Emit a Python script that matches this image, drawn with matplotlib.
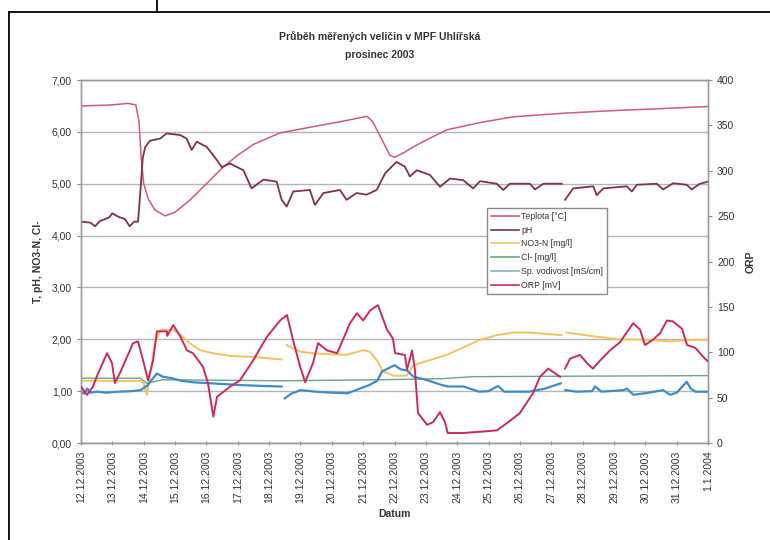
import numpy as np
import matplotlib
matplotlib.use("Agg")
import matplotlib.pyplot as plt
from matplotlib.lines import Line2D

plt.rcParams['font.family'] = ['Liberation Sans', 'DejaVu Sans']

nan = np.nan

# time axis: days since 12.12.2003 00:00
date_labels = ["12.12.2003", "13.12.2003", "14.12.2003", "15.12.2003", "16.12.2003",
               "17.12.2003", "18.12.2003", "19.12.2003", "20.12.2003", "21.12.2003",
               "22.12.2003", "23.12.2003", "24.12.2003", "25.12.2003", "26.12.2003",
               "27.12.2003", "28.12.2003", "29.12.2003", "30.12.2003", "31.12.2003",
               "1.1.2004"]

# Teplota [°C]
t_day = [0, 1.0, 1.5, 1.75, 1.85, 1.92, 2.0, 2.15, 2.35, 2.68, 3.0, 3.5, 4.0, 4.53,
         5.0, 5.5, 6.35, 7.4, 8.3, 9.12, 9.3, 9.6, 9.85, 10.0, 10.3, 10.6, 11.0,
         11.67, 12.73, 13.78, 15.4, 16.97, 18.56, 20.0]
t_val = [6.50, 6.52, 6.55, 6.52, 6.2, 5.5, 5.0, 4.7, 4.5, 4.38, 4.45, 4.7, 5.0, 5.32,
         5.55, 5.76, 5.98, 6.10, 6.20, 6.30, 6.20, 5.85, 5.55, 5.51, 5.60, 5.71, 5.84,
         6.04, 6.18, 6.29, 6.36, 6.41, 6.45, 6.49]

# pH
ph_day = [0, 0.3, 0.45, 0.6, 0.9, 1.0, 1.2, 1.4, 1.55, 1.7, 1.82, 1.9, 1.97, 2.05,
          2.2, 2.52, 2.73, 3.16, 3.37, 3.53, 3.69, 4.01, 4.33, 4.49, 4.75, 5.18, 5.44,
          5.82, 6.24, 6.4, 6.56, 6.77, 7.3, 7.46, 7.73, 8.26, 8.47, 8.79, 9.11, 9.43,
          9.7, 9.96, 10.07, 10.33, 10.49, 10.71, 11.13, 11.45, 11.77, 12.19, 12.51,
          12.73, 13.26, 13.47, 13.68, 14.32, 14.48, 14.75, 15.33, 15.38, 15.44, 15.7,
          16.34, 16.45, 16.66, 17.41, 17.57, 17.73, 18.36, 18.57, 18.89, 19.32, 19.48,
          19.74, 20.0]
ph_val = [4.27, 4.25, 4.18, 4.28, 4.35, 4.43, 4.36, 4.32, 4.18, 4.27, 4.27, 4.9, 5.5,
          5.71, 5.83, 5.87, 5.97, 5.94, 5.87, 5.65, 5.81, 5.71, 5.46, 5.32, 5.39, 5.26,
          4.91, 5.08, 5.04, 4.69, 4.56, 4.85, 4.88, 4.59, 4.82, 4.88, 4.69, 4.82, 4.79,
          4.88, 5.2, 5.36, 5.42, 5.33, 5.14, 5.26, 5.17, 4.94, 5.10, 5.07, 4.91, 5.05,
          5.00, 4.88, 5.00, 5.00, 4.89, 5.00, 5.00, nan, 4.69, 4.91, 4.95, 4.78, 4.91,
          4.95, 4.85, 4.98, 5.00, 4.89, 5.01, 4.98, 4.89, 5.00, 5.04]

# NO3-N [mg/l]
no3_day = [0, 1.9, 2.0, 2.1, 2.2, 2.35, 2.52, 2.94, 3.16, 3.48, 3.8, 4.23, 4.75, 5.5,
           6.4, 6.48, 6.56, 6.99, 7.62, 8.47, 9.0, 9.22, 9.43, 9.64, 9.96, 10.39, 10.6,
           11.66, 12.73, 13.26, 13.79, 14.32, 15.33, 15.4, 15.49, 16.45, 17.19, 18.04,
           18.79, 19.43, 20.0]
no3_val = [1.20, 1.20, 1.15, 0.93, 1.30, 1.90, 2.18, 2.18, 2.09, 1.92, 1.79, 1.73, 1.68,
           1.66, 1.61, nan, 1.89, 1.76, 1.72, 1.70, 1.79, 1.76, 1.60, 1.38, 1.30, 1.30,
           1.50, 1.70, 1.99, 2.08, 2.13, 2.13, 2.08, nan, 2.13, 2.05, 2.00, 1.99, 1.96,
           1.99, 1.99]

# Cl- [mg/l]
cl_day = [0, 1.9, 2.1, 2.3, 2.6, 6.4, 9.5, 11.5, 12.5, 20.0]
cl_val = [1.25, 1.25, 1.15, 1.18, 1.22, 1.20, 1.22, 1.24, 1.28, 1.30]

# Sp. vodivost [mS/cm]
ec_day = [0, 0.1, 0.2, 0.3, 0.5, 0.8, 1.2, 1.6, 1.9, 2.1, 2.3, 2.42, 2.6, 2.9, 3.2,
          3.6, 4.2, 5.0, 5.8, 6.4, 6.45, 6.5, 6.7, 7.0, 7.5, 8.0, 8.5, 8.9, 9.2, 9.45,
          9.6, 9.8, 10.0, 10.2, 10.4, 10.6, 11.0, 11.5, 11.7, 12.2, 12.7, 13.0, 13.3,
          13.5, 14.3, 14.8, 15.3, 15.38, 15.45, 15.8, 16.3, 16.4, 16.6, 17.3, 17.41,
          17.62, 18.0, 18.57, 18.79, 19.0, 19.32, 19.45, 19.6, 20.0]
ec_val = [1.00, 0.95, 1.05, 0.97, 0.99, 0.97, 0.99, 1.00, 1.02, 1.10, 1.25, 1.34, 1.28,
          1.25, 1.20, 1.17, 1.15, 1.12, 1.10, 1.09, nan, 0.86, 0.95, 1.02, 0.99, 0.97,
          0.96, 1.05, 1.12, 1.20, 1.38, 1.44, 1.50, 1.42, 1.40, 1.28, 1.22, 1.12, 1.09,
          1.09, 0.99, 1.00, 1.10, 0.99, 0.99, 1.05, 1.15, nan, 1.02, 0.99, 1.00, 1.09,
          0.99, 1.02, 1.05, 0.93, 0.96, 1.02, 0.93, 0.97, 1.18, 1.05, 0.99, 0.99]

# ORP [mV]
orp_day = [0, 0.19, 0.38, 0.5, 0.83, 0.99, 1.08, 1.24, 1.66, 1.82, 1.98, 2.14, 2.3,
           2.42, 2.74, 2.75, 2.94, 3.16, 3.38, 3.57, 3.89, 4.05, 4.22, 4.34, 4.53, 4.75,
           5.07, 5.49, 5.93, 6.35, 6.57, 6.76, 6.99, 7.15, 7.4, 7.56, 7.85, 8.17, 8.58,
           8.8, 9.0, 9.22, 9.47, 9.76, 9.95, 10.02, 10.33, 10.4, 10.56, 10.65, 10.75,
           11.04, 11.23, 11.45, 11.61, 11.7, 12.18, 12.95, 13.27, 13.59, 14.0, 14.42,
           14.64, 14.9, 15.28, 15.36, 15.44, 15.6, 15.92, 16.14, 16.33, 16.56, 16.87,
           17.19, 17.61, 17.83, 17.99, 18.25, 18.47, 18.69, 18.88, 19.17, 19.33, 19.59,
           19.9, 20.0]
orp_val = [62, 53, 62, 73, 99, 88, 66, 77, 110, 112, 91, 69, 91, 123, 123, 118, 130,
           118, 102, 99, 84, 66, 29, 51, 56, 62, 69, 91, 117, 135, 141, 114, 84, 67, 88,
           110, 102, 99, 132, 143, 135, 146, 152, 125, 115, 99, 97, 81, 102, 81, 33, 20,
           23, 34, 23, 11, 11, 13, 14, 22, 33, 55, 73, 82, 73, nan, 82, 93, 97, 88, 82,
           91, 102, 111, 132, 125, 108, 114, 121, 135, 134, 126, 108, 105, 93, 90]

text_col = '#333333'
grid_col = '#b4b4b4'

fig = plt.figure(figsize=(7.7, 5.4), dpi=100)
ax = fig.add_axes([0.1052, 0.1796, 0.8143, 0.6722])
ax2 = ax.twinx()

c_t, c_ph, c_no3 = '#cf5a80', '#7c3446', '#f6c25e'
c_cl, c_ec, c_orp = '#6aa585', '#3d8cc6', '#c92c5c'

ax.plot(cl_day, cl_val, color=c_cl, lw=1.0, zorder=3)
ax.plot(no3_day, no3_val, color=c_no3, lw=1.4, zorder=3)
ax.plot(ec_day, ec_val, color=c_ec, lw=1.6, zorder=4)
ax.plot(t_day, t_val, color=c_t, lw=1.1, zorder=4)
ax.plot(ph_day, ph_val, color=c_ph, lw=1.3, zorder=4)
ax2.plot(orp_day, orp_val, color=c_orp, lw=1.4, zorder=4)

ax.set_xlim(0, 20)
ax.set_ylim(0, 7)
ax2.set_ylim(0, 400)

ax.set_yticks(np.arange(0, 8))
ax.set_yticklabels([f"{v:.2f}".replace('.', ',') for v in range(8)])
ax2.set_yticks(np.arange(0, 401, 50))
ax.set_xticks(np.arange(len(date_labels)))
ax.set_xticklabels(date_labels, rotation=90)

for a in (ax, ax2):
    a.tick_params(axis='both', labelsize=7.5, colors=text_col, length=3,
                  width=0.8, color='#888888')
    for s in a.spines.values():
        s.set_color('#9a9a9a')
        s.set_linewidth(1.0)
ax.tick_params(axis='x', direction='inout', pad=4)
ax.grid(axis='y', color=grid_col, lw=1.0)
ax.set_axisbelow(True)

ax.set_ylabel("T, pH, NO3-N, Cl-", fontsize=7.5, fontweight='bold', color=text_col,
              labelpad=6)
ax2.set_ylabel("ORP", fontsize=7.5, fontweight='bold', color=text_col, labelpad=8)
ax.set_xlabel("Datum", fontsize=7.5, fontweight='bold', color=text_col, labelpad=4)

fig.text(0.493, 0.932, "Průběh měřených veličin v MPF Uhlířská", ha='center',
         va='center', fontsize=7.5, fontweight='bold', color=text_col)
fig.text(0.493, 0.898, "prosinec 2003", ha='center', va='center', fontsize=7.5,
         fontweight='bold', color=text_col)

handles = [Line2D([], [], color=c, lw=1.2) for c in (c_t, c_ph, c_no3, c_cl, '#8fb0c4', c_orp)]
names = ["Teplota [°C]", "pH", "NO3-N [mg/l]", "Cl- [mg/l]",
         "Sp. vodivost [mS/cm]", "ORP [mV]"]
leg = ax2.legend(handles, names, loc='upper left', bbox_to_anchor=(0.632, 0.615),
                 bbox_transform=fig.transFigure, fontsize=6.3, frameon=True,
                 fancybox=False, edgecolor='#8a8a8a', framealpha=1.0,
                 handlelength=3.2, handletextpad=0.3, borderpad=0.45,
                 labelspacing=0.55, borderaxespad=0)
for t in leg.get_texts():
    t.set_color(text_col)
leg.set_zorder(10)

# outer frame of the sheet
fig.add_artist(Line2D([9, 9], [540 - 12, -10], transform=None, color='black', lw=1.3))
fig.add_artist(Line2D([9, 780], [540 - 12, 540 - 12], transform=None, color='black', lw=1.3))
fig.add_artist(Line2D([157, 157], [540 - 12, 545], transform=None, color='black', lw=1.3))

fig.savefig("out.png", dpi=100)
